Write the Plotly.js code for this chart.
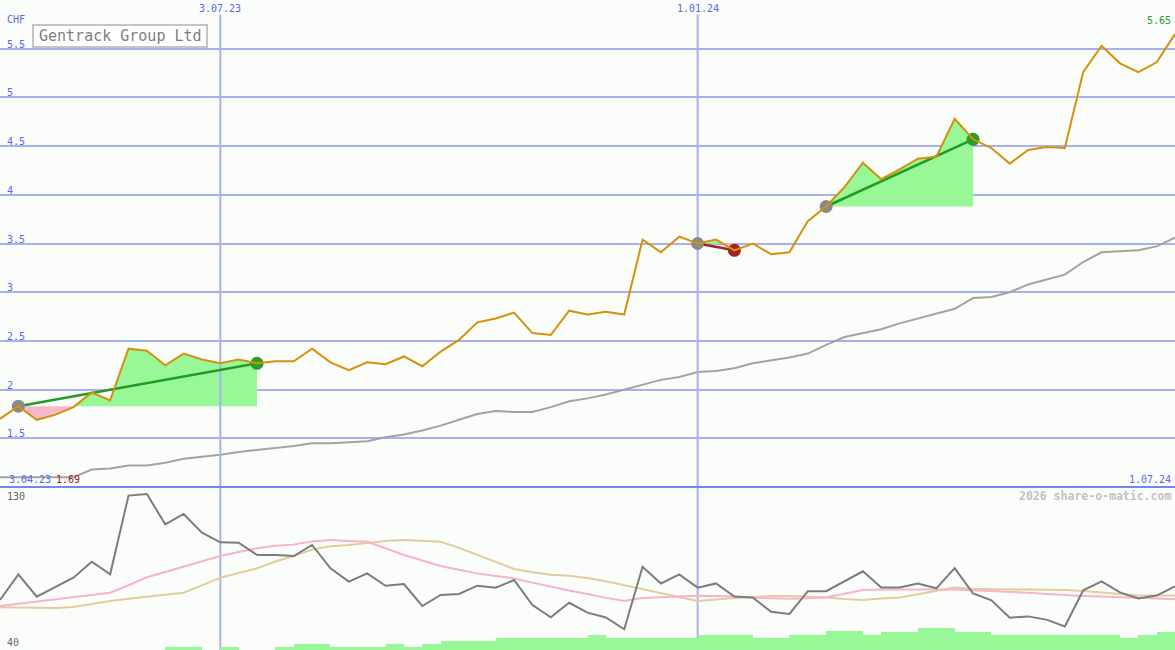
<!DOCTYPE html>
<html>
<head>
<meta charset="utf-8">
<script src="https://cdn.plot.ly/plotly-3.0.1.min.js"></script>
<style>
  html, body { margin: 0; padding: 0; background: #fbfdfb; }
  #chart { width: 1175px; height: 650px; }
</style>
</head>
<body>
<div id="chart"></div>
<script>
// Weekly closing prices of Gentrack Group Ltd (CHF), one value per week
const price = [
  1.70, 1.83, 1.69, 1.74, 1.82, 1.97, 1.89, 2.42, 2.40, 2.25,
  2.37, 2.31, 2.27, 2.31, 2.27, 2.29, 2.29, 2.42, 2.28, 2.20,
  2.28, 2.26, 2.34, 2.24, 2.39, 2.51, 2.69, 2.73, 2.79, 2.58,
  2.56, 2.81, 2.77, 2.80, 2.77, 3.54, 3.41, 3.57, 3.50, 3.54,
  3.43, 3.50, 3.39, 3.41, 3.73, 3.88, 4.08, 4.33, 4.16, 4.26,
  4.37, 4.39, 4.78, 4.57, 4.48, 4.32, 4.46, 4.49, 4.48, 5.26,
  5.53, 5.35, 5.26, 5.36, 5.65
];

// Long moving average of the price
const longAverage = [
  1.10, 1.10, 1.10, 1.10, 1.10, 1.18, 1.19, 1.22, 1.22, 1.25,
  1.29, 1.31, 1.33, 1.36, 1.38, 1.40, 1.42, 1.45, 1.45, 1.46,
  1.47, 1.51, 1.54, 1.58, 1.63, 1.69, 1.75, 1.78, 1.77, 1.77,
  1.82, 1.88, 1.91, 1.95, 2.00, 2.05, 2.10, 2.13, 2.18, 2.19,
  2.22, 2.27, 2.30, 2.33, 2.37, 2.46, 2.54, 2.58, 2.62, 2.68,
  2.73, 2.78, 2.83, 2.94, 2.95, 3.00, 3.08, 3.13, 3.18, 3.31,
  3.41, 3.42, 3.43, 3.47, 3.56
];

// Lower panel: momentum oscillator and its two smoothings
const oscillator = [
  65.9, 81.7, 67.9, 73.7, 79.6, 89.5, 81.7, 130.2, 131.2, 112.5,
  118.9, 107.4, 101.4, 101.2, 93.6, 93.6, 93.0, 99.8, 85.4, 77.2,
  82.3, 74.7, 75.7, 62.2, 69.0, 69.6, 74.7, 73.5, 78.2, 62.8,
  55.2, 64.2, 58.1, 55.1, 47.9, 86.4, 76.1, 81.7, 73.5, 76.1,
  68.0, 67.4, 58.7, 57.3, 71.3, 71.3, 77.3, 83.6, 73.6, 73.6,
  76.1, 73.1, 85.5, 69.9, 65.7, 55.0, 55.8, 53.8, 49.6, 71.9,
  77.4, 70.6, 66.9, 68.6, 74.3
];
const oscFast = [
  62.2, 63.5, 64.8, 66.1, 67.5, 69.0, 70.4, 75.0, 79.9, 83.1,
  86.4, 89.7, 93.0, 95.4, 97.8, 99.3, 100.0, 102.0, 102.9, 102.3,
  101.8, 97.8, 93.6, 90.2, 86.8, 84.5, 82.3, 80.7, 79.2, 76.6,
  74.1, 71.7, 69.6, 67.2, 65.3, 67.1, 67.6, 68.0, 68.5, 68.3,
  68.1, 67.3, 66.8, 66.6, 66.9, 67.6, 69.8, 72.0, 72.4, 72.4,
  72.4, 72.4, 72.4, 71.9, 71.5, 70.9, 70.4, 69.6, 68.8, 68.4,
  68.0, 67.7, 67.3, 66.8, 66.3
];
const oscSlow = [
  61.4, 61.2, 61.0, 60.9, 61.6, 63.5, 65.3, 66.6, 67.9, 69.1,
  70.4, 74.9, 79.6, 82.5, 85.4, 89.6, 93.0, 97.0, 99.0, 99.8,
  101.0, 102.3, 102.9, 102.5, 101.8, 98.0, 93.6, 89.0, 85.0, 83.0,
  81.4, 80.8, 79.5, 77.5, 75.0, 72.8, 70.0, 67.5, 65.3, 66.2,
  67.2, 67.7, 68.3, 68.4, 68.0, 67.4, 66.5, 65.9, 66.8, 67.4,
  69.4, 71.5, 73.6, 72.8, 72.4, 72.4, 72.4, 72.4, 72.0, 71.4,
  70.6, 69.6, 68.7, 68.6, 68.6
];

// Traded volume per week (relative units)
const volume = [
  0, 0, 0, 0, 0, 0, 0, 0, 0, 3,
  3, 0, 3, 0, 0, 3, 6, 6, 3, 3,
  3, 6, 3, 6, 9, 9, 9, 12, 12, 12,
  12, 12, 15, 12, 12, 12, 12, 12, 15, 15,
  15, 12, 12, 15, 15, 19, 19, 15, 18, 18,
  22, 22, 18, 18, 15, 15, 15, 15, 15, 15,
  15, 12, 15, 18
];

// Date labels and the week index they belong to
const dateLabels = ["3.04.23", "3.07.23", "1.01.24", "1.07.24"];
const dateIndex = [0, 12, 38, 64];

// Price axis labels
const priceTicks = [1.5, 2, 2.5, 3, 3.5, 4, 4.5, 5, 5.5];

// Trend signals: start week, end week
const signalStart = [1, 38, 45];
const signalEnd = [14, 40, 53];

const W = 1175, H = 650;
const px = x => x / W;
const py = y => 1 - y / H;
const splitY = 487;              // boundary between price and indicator panels
const topDomain = [1 - splitY / H, 1];
const lowDomain = [0, 1 - splitY / H];
const priceRange = [1.0, 6.0];
const oscRange = [35.1, 135.5];

const blue = '#5668ee';
const gridBlue = '#a6b2ef';
const mono = 'DejaVu Sans Mono';
const idx = price.map((_, i) => i);

const traces = [];

// long average
traces.push({
  x: idx, y: longAverage, type: 'scatter', mode: 'lines',
  line: { color: '#a3a3a3', width: 2 }, xaxis: 'x', yaxis: 'y'
});

// shaded regions between price and the signal's starting level
function signalFills(s, e) {
  const base = price[s];
  const pts = [];
  for (let i = s; i <= e; i++) {
    pts.push([i, price[i]]);
    if (i < e) {
      const a = price[i] - base, b = price[i + 1] - base;
      if (a * b < 0) {
        const t = a / (a - b);
        pts.push([i + t, base]);
      }
    }
  }
  const up = pts.map(p => [p[0], Math.max(p[1], base)]);
  const dn = pts.map(p => [p[0], Math.min(p[1], base)]);
  const close = arr => arr.concat([[e, base], [s, base]]);
  const mk = (arr, col) => ({
    x: close(arr).map(p => p[0]), y: close(arr).map(p => p[1]),
    type: 'scatter', mode: 'lines', fill: 'toself', fillcolor: col,
    line: { width: 0, color: col }, xaxis: 'x', yaxis: 'y'
  });
  return [mk(dn, '#f8b8cc'), mk(up, '#98f898')];
}
signalStart.forEach((s, k) => traces.push(...signalFills(s, signalEnd[k])));

// date reference lines through both panels
[dateIndex[1], dateIndex[2]].forEach(d => {
  traces.push({
    x: [d, d], y: [priceRange[0], 5.85], type: 'scatter', mode: 'lines',
    line: { color: gridBlue, width: 2 }, xaxis: 'x', yaxis: 'y'
  });
  traces.push({
    x: [d, d], y: oscRange, type: 'scatter', mode: 'lines',
    line: { color: gridBlue, width: 2 }, xaxis: 'x2', yaxis: 'y2'
  });
});

// signal lines and markers
signalStart.forEach((s, k) => {
  const e = signalEnd[k];
  const rising = price[e] >= price[s];
  traces.push({
    x: [s, e], y: [price[s], price[e]], type: 'scatter', mode: 'lines',
    line: { color: rising ? '#239a23' : '#a12222', width: 2.5 },
    xaxis: 'x', yaxis: 'y'
  });
  traces.push({
    x: [s], y: [price[s]], type: 'scatter', mode: 'markers',
    marker: { color: '#898989', size: 13 }, xaxis: 'x', yaxis: 'y'
  });
  traces.push({
    x: [e], y: [price[e]], type: 'scatter', mode: 'markers',
    marker: { color: rising ? '#2b9b2b' : '#a32323', size: 13 },
    xaxis: 'x', yaxis: 'y'
  });
});

// price line
traces.push({
  x: idx, y: price, type: 'scatter', mode: 'lines',
  line: { color: '#d6900c', width: 2 }, xaxis: 'x', yaxis: 'y'
});

// indicator panel
traces.push({
  x: idx, y: oscSlow, type: 'scatter', mode: 'lines',
  line: { color: '#e3cc9e', width: 2 }, xaxis: 'x2', yaxis: 'y2'
});
traces.push({
  x: idx, y: oscFast, type: 'scatter', mode: 'lines',
  line: { color: '#f7b3c8', width: 2 }, xaxis: 'x2', yaxis: 'y2'
});
traces.push({
  x: idx, y: oscillator, type: 'scatter', mode: 'lines',
  line: { color: '#7c7c7c', width: 2 }, xaxis: 'x2', yaxis: 'y2'
});

// volume bars, each spanning one week
traces.push({
  x: volume.map((_, i) => i + 0.5), y: volume, type: 'bar', width: 1,
  marker: { color: '#98f898', line: { width: 0 } }, xaxis: 'x2', yaxis: 'y3'
});

const annotations = [];
const note = (text, x, y, opts) => annotations.push(Object.assign({
  text, x, y, xref: 'paper', yref: 'paper', showarrow: false,
  xanchor: 'left', yanchor: 'middle',
  font: { family: mono, size: 10, color: blue }
}, opts || {}));

note('CHF', px(5), py(19));
priceTicks.forEach(v => note(String(v), px(5), v, { yref: 'y', yanchor: 'bottom', yshift: -3 }));
note(dateLabels[1], dateIndex[1], py(9), { xref: 'x', xanchor: 'center' });
note(dateLabels[2], dateIndex[2], py(9), { xref: 'x', xanchor: 'center' });
note(dateLabels[0], px(7), py(479));
const minPrice = Math.min(...price);
note(minPrice.toFixed(2), px(54), py(479), { font: { family: mono, size: 10, color: '#a01818' } });
note(dateLabels[3], px(1173), py(479), { xanchor: 'right' });
note(price[price.length - 1].toFixed(2), px(1173), py(21),
  { xanchor: 'right', font: { family: mono, size: 10, color: '#2a9a2a' } });
note('2026 share-o-matic.com', px(1173), py(496),
  { xanchor: 'right', font: { family: mono, size: 11.5, color: '#c2c2c2', weight: 'bold' } });
note('130', px(5), py(496), { font: { family: mono, size: 10, color: '#666666' } });
note('40', px(5), py(642), { font: { family: mono, size: 10, color: '#666666' } });
note('Gentrack Group Ltd', px(120), py(36),
  { xanchor: 'center', font: { family: mono, size: 15, color: '#7e7e7e' } });

const shapes = [
  { type: 'rect', xref: 'paper', yref: 'paper', x0: px(33), x1: px(207), y0: py(25), y1: py(47),
    line: { color: '#c4c4c4', width: 2 }, fillcolor: '#ffffff', layer: 'above' },
  { type: 'line', xref: 'paper', yref: 'paper', x0: 0, x1: 1, y0: py(splitY), y1: py(splitY),
    line: { color: '#7585ea', width: 2 }, layer: 'above' }
];

const layout = {
  width: W, height: H,
  margin: { l: 0, r: 0, t: 0, b: 0, pad: 0 },
  paper_bgcolor: '#fbfdfb', plot_bgcolor: '#fbfdfb',
  showlegend: false,
  xaxis: { domain: [0, 1], range: [0, 64], anchor: 'y', showgrid: false, zeroline: false,
           showticklabels: false, ticks: '', showline: false },
  xaxis2: { domain: [0, 1], range: [0, 64], anchor: 'y2', showgrid: false, zeroline: false,
            showticklabels: false, ticks: '', showline: false },
  yaxis: { domain: topDomain, range: priceRange, anchor: 'x', tickvals: priceTicks,
           showgrid: true, gridcolor: gridBlue, gridwidth: 2, zeroline: false,
           showticklabels: false, ticks: '', showline: false },
  yaxis2: { domain: lowDomain, range: oscRange, anchor: 'x2', showgrid: false, zeroline: false,
            showticklabels: false, ticks: '', showline: false },
  yaxis3: { overlaying: 'y2', anchor: 'x2', range: [0, 163], visible: false, showgrid: false, zeroline: false },
  bargap: 0,
  annotations, shapes
};

Plotly.newPlot('chart', traces, layout, { staticPlot: true, displayModeBar: false });
</script>
</body>
</html>
